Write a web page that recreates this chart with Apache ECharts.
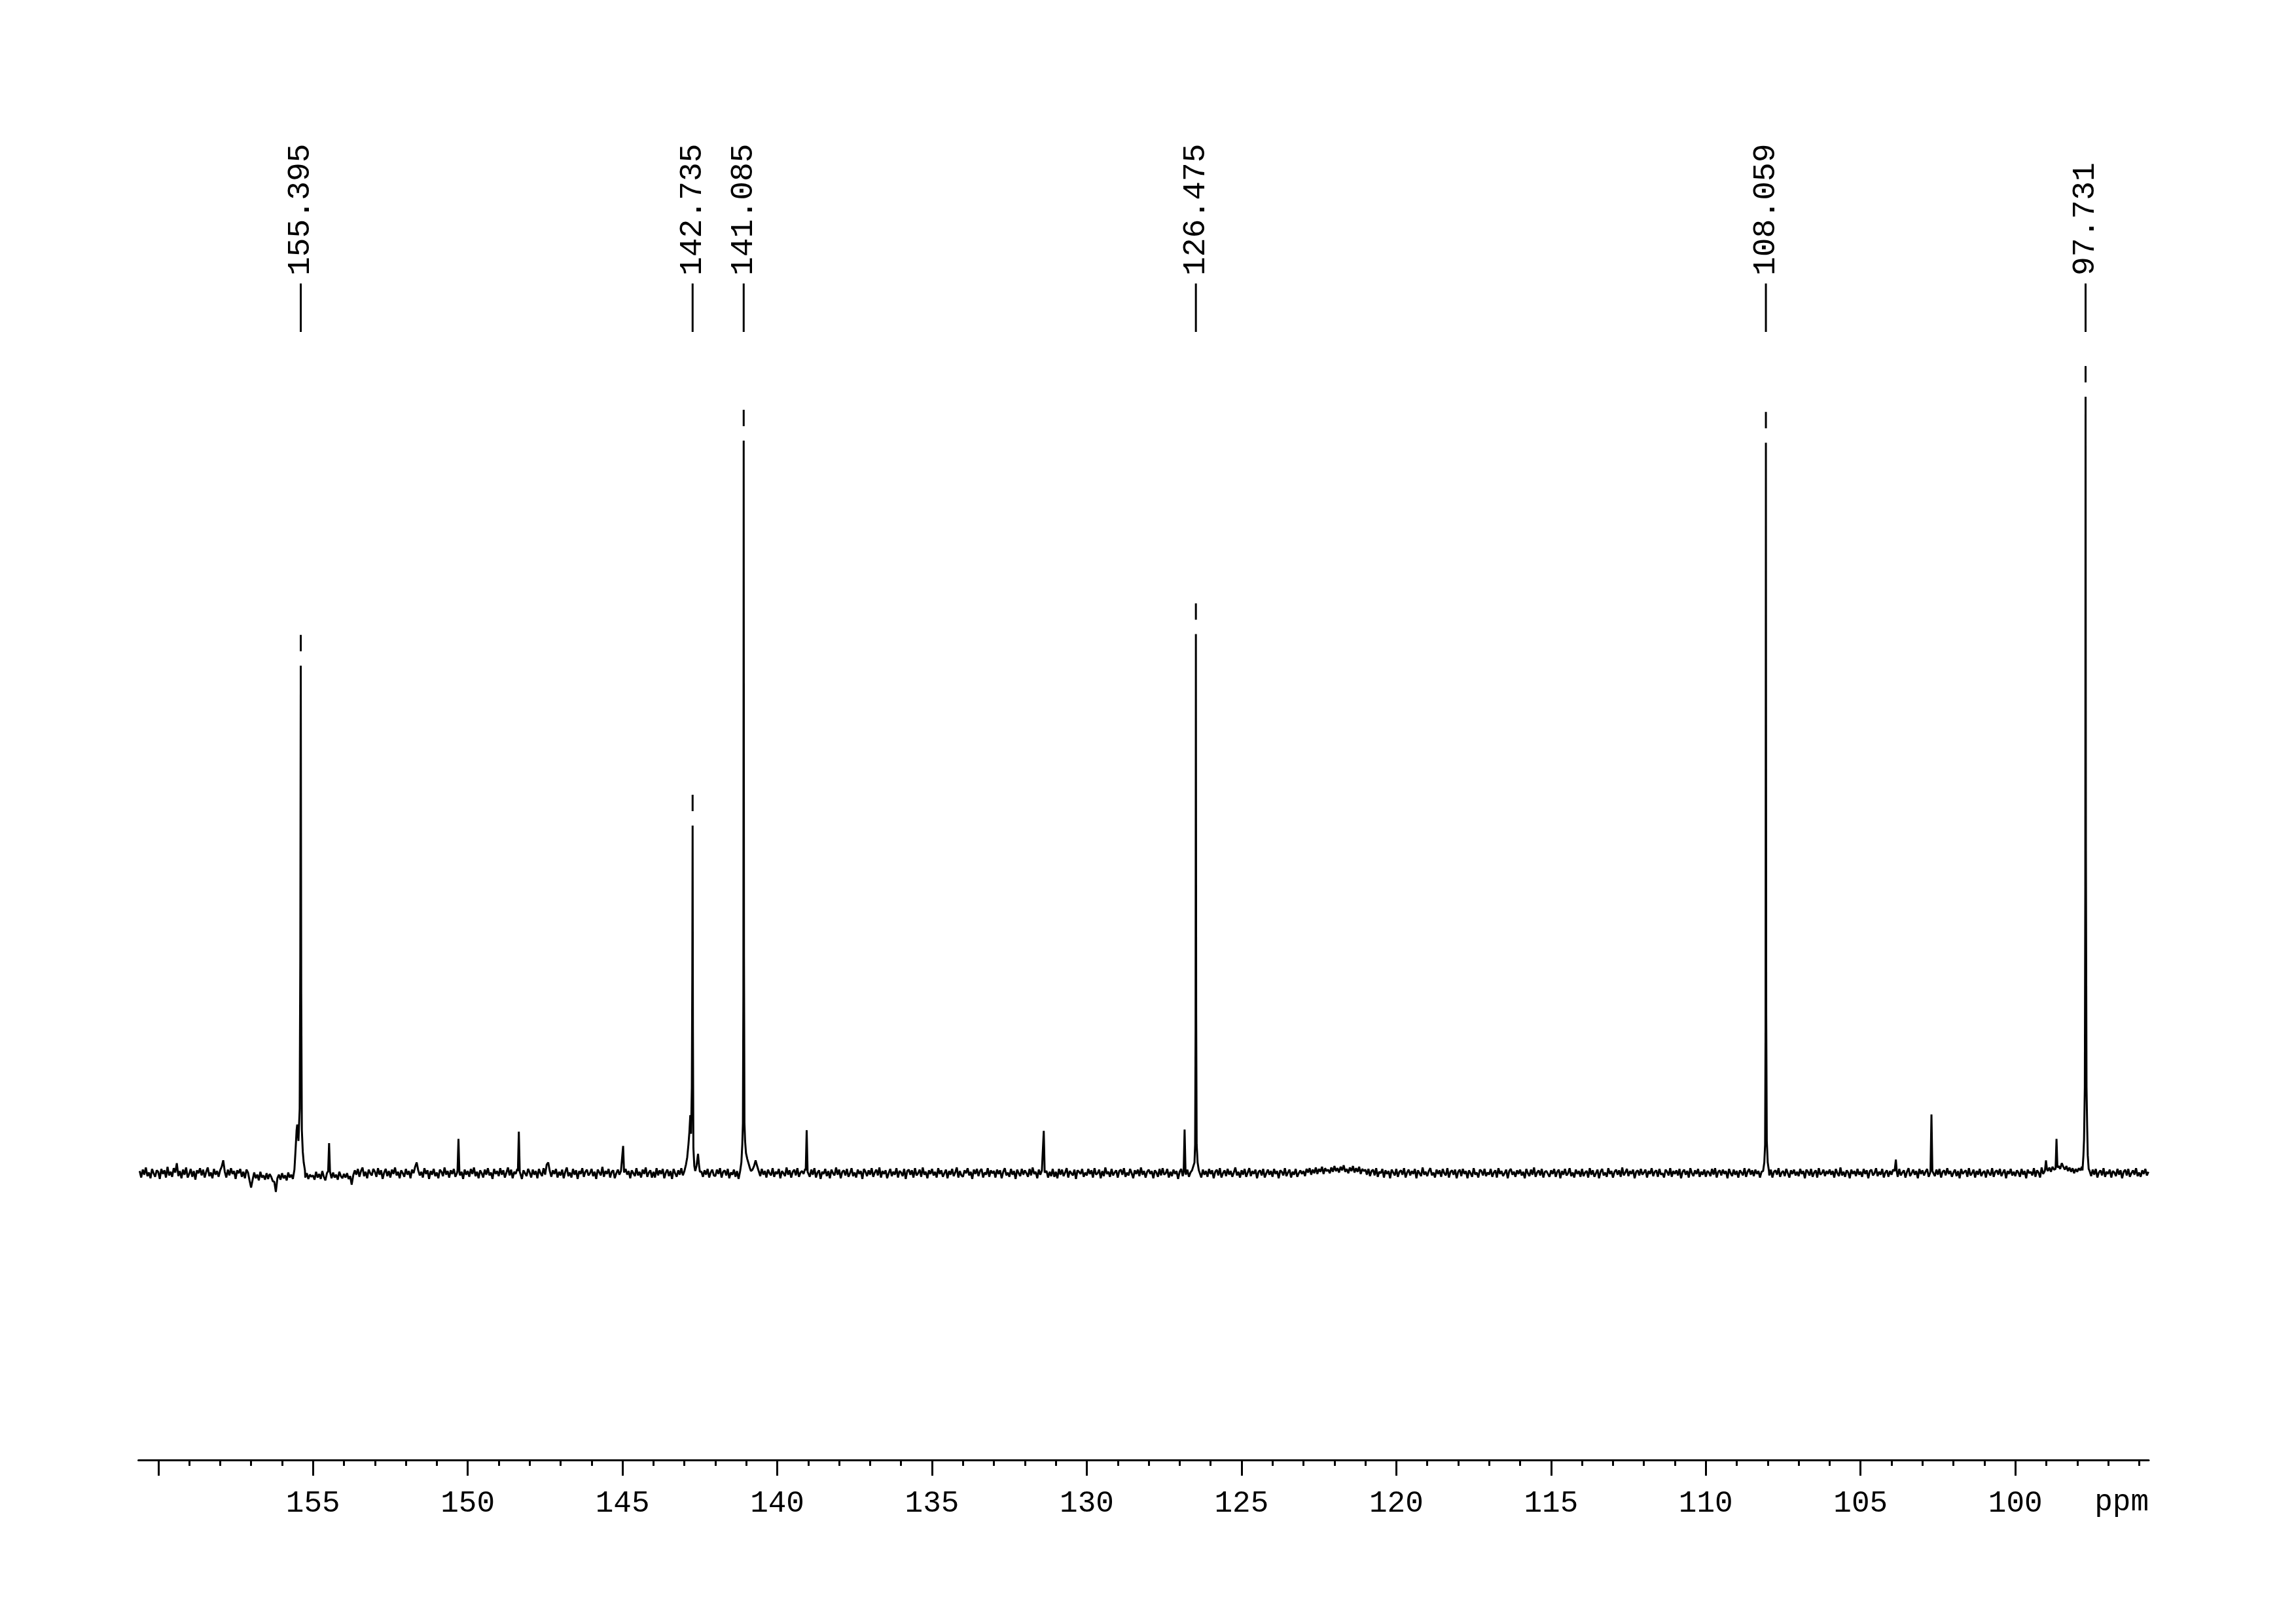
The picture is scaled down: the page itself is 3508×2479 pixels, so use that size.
<!DOCTYPE html>
<html>
<head>
<meta charset="utf-8">
<script src="https://cdn.jsdelivr.net/npm/echarts@6/dist/echarts.min.js"></script>
<style>html,body{margin:0;padding:0;background:#fff}#c{width:3508px;height:2479px}</style>
</head>
<body>
<div id="c"></div>
<script>
// ---- Data (13C NMR, ppm) ----
const axisMin = 95.69;
const axisMax = 160.64;
const majorTicks = [100, 105, 110, 115, 120, 125, 130, 135, 140, 145, 150, 155, 160];
const tickLabels = [100, 105, 110, 115, 120, 125, 130, 135, 140, 145, 150, 155];
const minorTicks = [96,97,98,99,100,101,102,103,104,105,106,107,108,109,110,111,112,113,114,115,116,117,118,119,120,121,122,123,124,125,126,127,128,129,130,131,132,133,134,135,136,137,138,139,140,141,142,143,144,145,146,147,148,149,150,151,152,153,154,155,156,157,158,159,160];

const peakLabels = ['155.395', '142.735', '141.085', '126.475', '108.059', '97.731'];
const peakPpm = [155.395, 142.735, 141.085, 126.475, 108.059, 97.731];
const peakHeights = [70.8, 48.5, 102.2, 75.2, 101.9, 108.3];

// baseline (noise) samples, every 0.05 ppm from 160.60 down to 95.70
const noiseStart = 160.6;
const noiseStep = 0.05;
const noise = [
 0.3,-0.6,0.5,-0.2,0.8,-0.4,0.1,-0.7,0.6,0.0,-0.5,0.4,
 0.2,-0.8,0.6,-0.1,0.4,-0.6,0.9,-0.3,0.2,-0.5, 0.7,0.1,1.4,-0.4,0.3,-0.7,0.5,-0.2,0.8,-0.6,
 -0.1,0.6,-0.5,0.3,-0.9,0.4,0.0,0.7,-0.3,0.5, -0.6,0.2,0.8,-0.4,0.1,-0.7,0.6,-0.2,0.3,-0.5,
 0.4,0.9,1.8,0.2,-0.6,0.5,-0.3,0.7,-0.1,0.3, -0.8,0.4,0.0,0.6,-0.5,0.2,-0.7,0.5,0.1,-1.0,
 -2.0,-0.9,0.1,-0.7,-0.2,-1.0,0.2,-0.6,-0.3,-0.9, 0.0,-0.8,-0.1,-0.5,-1.1,-1.2,-2.6,-0.7,-0.2,-0.9,
 0.0,-0.7,-0.3,-1.0,0.1,-0.6,-0.2,-0.8,0,0, 0,0,0,0,0,-0.6,0.0,-0.8,-0.2,-0.5,
 -0.3,-0.9,0.2,-0.6,-0.1,-0.8,0.3,-0.5,-1.0,0.0, 0,-0.4,-0.7,0.1,-0.6,-0.2,-0.9,0.2,-0.4,-0.7,
 -0.1,-0.6,0.0,-0.8,-0.4,-1.6,-0.3,0.4,-0.2,0.6, -0.5,0.3,0.8,-0.4,0.2,-0.7,0.5,0.0,-0.3,0.6,
 0.2,-0.5,0.7,-0.2,0.4,-0.8,0.1,0.6,-0.4,0.3, -0.6,0.5,-0.1,0.8,-0.3,0.2,-0.7,0.4,0.0,-0.5,
 0.6,-0.2,0.3,-0.7,0.5,0.0,0.9,1.5,0.4,-0.3, 0.2,-0.6,0.7,-0.1,0.4,-0.8,0.3,-0.2,0.6,-0.4,
 0.1,-0.7,0.5,0.2,-0.4,0.8,-0.2,0.3,-0.6,0.4, -0.1,0.6,-0.5,0.0,0.7,-0.3,0.2,-0.8,0.5,-0.2,
 0.3,-0.5,0.6,-0.1,0.8,-0.4,0.2,-0.7,0.4,0.0, -0.6,0.5,-0.2,0.7,-0.3,0.1,-0.8,0.6,-0.1,0.3,
 -0.4,0.7,-0.2,0.4,-0.6,0.1,0.8,-0.3,0.5,-0.7, 0.2,-0.1,0.6,-0.5,0.3,-0.8,0.4,0.0,-0.4,0.6,
 0.1,-0.6,0.5,-0.2,0.3,-0.7,0.6,0.0,-0.4,0.7, -0.2,1.2,1.5,0.3,-0.5,0.4,-0.1,0.6,-0.6,0.2,
 -0.3,0.5,-0.7,0.2,0.8,-0.4,0.1,-0.6,0.6,-0.2, 0.4,-0.8,0.3,-0.1,0.7,-0.5,0.2,0.5,-0.3,0.0,
 0.6,-0.4,0.2,-0.8,0.5,0.1,-0.3,0.9,-0.5,0.3, -0.1,0.6,-0.6,0.2,0.4,-0.7,0.0,0.5,-0.2,0.3,
 0,-0.5,0.6,-0.2,0.3,-0.7,0.4,0.0,-0.4,0.7, -0.3,0.2,-0.6,0.5,-0.1,0.8,-0.5,0.1,0.4,-0.6,
 0.2,-0.6,0.7,-0.3,0.4,-0.1,0.6,-0.7,0.1,0.5, -0.4,0.3,-0.8,0.6,0.0,-0.5,0.4,-0.2,0.7,-0.3,
 0.3,0,0,0,0,0,0,0,0,0, 0,0.2,-0.5,0.4,-0.2,0.6,-0.6,0.1,0.5,-0.3,
 -0.4,0.5,-0.1,0.7,-0.6,0.2,0.4,-0.3,0.6,-0.7, 0.1,-0.2,0.5,-0.5,0.3,-0.8,0,0,0,0,
 0,0,0,0,0.5,1.0,1.8,1.0,0.3,-0.4, 0.6,-0.2,0.3,-0.6,0.5,0.0,-0.3,0.7,-0.5,0.2,
 -0.1,0.6,-0.7,0.3,0.0,-0.4,0.8,-0.2,0.4,-0.6, 0.2,0.5,-0.3,0.7,-0.5,0.1,0.3,-0.1,0.6,0,
 0.3,-0.5,0.5,-0.2,0.7,-0.6,0.1,0.4,-0.8,0.2, -0.1,0.6,-0.4,0.3,-0.7,0.5,0.0,-0.3,0.8,-0.2,
 0.5,-0.7,0.2,0.4,-0.3,0.6,-0.5,0.0,0.7,-0.4, 0.1,-0.6,0.5,-0.1,0.3,-0.8,0.6,0.2,-0.4,0.4,
 -0.2,0.7,-0.5,0.1,0.5,-0.3,0.8,-0.6,0.3,-0.1, 0.4,-0.7,0.0,0.6,-0.4,0.2,-0.2,0.7,-0.6,0.3,
 0.1,-0.4,0.6,-0.8,0.3,0.5,-0.2,0.4,-0.6,0.7, -0.3,0.0,0.5,-0.5,0.8,-0.2,0.2,-0.7,0.4,-0.1,
 0.6,-0.3,0.2,-0.6,0.7,-0.1,0.4,-0.5,0.0,0.5, -0.7,0.3,-0.2,0.6,-0.4,0.1,0.8,-0.6,0.3,-0.3,
 -0.5,0.4,0.0,0.7,-0.3,0.2,-0.8,0.5,-0.1,0.6, -0.4,0.3,0.6,-0.6,0.1,-0.2,0.7,-0.5,0.4,0.0,
 0.3,-0.6,0.5,-0.1,0.4,-0.7,0.2,0.7,-0.3,0.1, -0.5,0.6,-0.2,0.3,-0.8,0.5,0.0,-0.4,0.6,-0.2,
 0.4,0.0,-0.5,0.6,-0.3,0.8,-0.1,0.2,-0.7,0.5, -0.2,0.4,0,0.1,0.3,-0.6,0.2,-0.4,0.6,-0.5,
 0.2,-0.7,0.6,-0.2,0.5,-0.4,0.1,0.7,-0.6,0.3, 0.0,-0.3,0.5,-0.8,0.4,0.2,-0.1,0.6,-0.5,0.1,
 -0.3,0.6,-0.1,0.4,-0.6,0.7,-0.2,0.0,0.5,-0.7, 0.3,-0.4,0.8,-0.1,0.2,-0.5,0.6,-0.3,0.1,0.4,
 -0.6,0.3,0.5,-0.2,0.7,-0.5,0.1,-0.3,0.6,0.0, -0.7,0.4,-0.1,0.5,-0.4,0.8,-0.2,0.3,-0.6,0.2,
 0.5,-0.1,0.3,-0.7,0.4,0.1,-0.5,0.6,-0.3,0.7, -0.2,0.0,0.6,-0.6,0.2,-0.4,0.5,-0.1,0.3,-0.8,
 0.2,0.6,-0.4,0,-0.2,0.5,-0.5,0.1,0.4,0, 0,0,0,0.3,-0.6,0.5,-0.2,0.3,-0.5,0.6,
 -0.1,0.4,-0.7,0.2,0.5,-0.3,0.7,-0.6,0.0,0.4, -0.4,0.6,-0.2,0.3,-0.5,0.1,0.8,-0.3,0.2,-0.6,
 0.4,-0.2,0.6,-0.5,0.1,0.7,-0.4,0.3,-0.1,0.5, -0.7,0.2,0.4,-0.3,0.6,-0.6,0.0,0.5,-0.2,0.3,
 -0.5,0.6,-0.1,0.3,-0.7,0.4,0.2,-0.3,0.7,-0.4, 0.1,0.5,-0.6,0.2,-0.2,0.6,-0.5,0.0,0.4,-0.1,
 0.3,-0.4,0.6,0.1,0.7,-0.2,0.5,0.0,0.8,-0.1, 0.6,0.2,0.9,-0.1,0.7,0.3,0.5,0.0,0.8,0.2,
 1.0,0.3,0.7,0.1,0.9,0.4,1.1,0.2,0.6,0.0, 0.8,0.3,1.0,0.1,0.7,0.2,0.9,-0.1,0.6,0.3,
 0.5,-0.2,0.6,-0.4,0.3,0.5,-0.3,0.7,-0.5,0.2, 0.0,0.6,-0.6,0.4,-0.1,0.3,-0.7,0.5,0.1,-0.3,
 0.6,-0.5,0.2,0.4,-0.2,0.7,-0.6,0.1,0.5,-0.3, 0.3,-0.1,0.6,-0.7,0.4,0.0,-0.4,0.8,-0.2,0.2,
 -0.4,0.3,0.7,-0.3,0.1,-0.6,0.5,-0.1,0.4,-0.5, 0.6,0.0,-0.3,0.7,-0.6,0.2,0.4,-0.2,0.5,-0.7,
 0.2,0.5,-0.4,0.6,-0.1,0.3,-0.7,0.4,0.0,-0.5, 0.7,-0.2,0.1,-0.6,0.5,0.3,-0.3,0.6,-0.4,0.1,
 -0.2,0.6,-0.5,0.1,0.4,-0.6,0.7,-0.1,0.3,-0.4, 0.0,0.5,-0.7,0.3,0.6,-0.2,0.2,-0.5,0.4,-0.1,
 0.5,-0.3,0.2,-0.7,0.6,0.0,-0.4,0.5,-0.2,0.8, -0.5,0.1,0.4,-0.3,0.6,-0.6,0.2,0.3,-0.1,-0.5,
 0.4,-0.1,0.6,-0.5,0.2,0.5,-0.7,0.3,-0.2,0.6, -0.3,0.0,0.7,-0.4,0.1,-0.6,0.5,-0.1,0.3,-0.5,
 0.6,-0.4,0.1,0.3,-0.6,0.7,-0.2,0.4,-0.5,0.0, 0.5,-0.7,0.2,0.6,-0.3,0.1,-0.5,0.7,-0.1,0.3,
 -0.6,0.2,0.5,-0.2,0.4,-0.5,0.8,-0.3,0.1,0.6, -0.4,0.3,-0.1,0.5,-0.7,0.2,0.4,-0.3,0.6,-0.2,
 0.1,0.5,-0.6,0.3,-0.1,0.7,-0.4,0.2,0.4,-0.5, 0.6,-0.2,0.0,-0.6,0.5,0.2,-0.3,0.7,-0.5,0.3,
 -0.1,0.4,-0.3,0.6,-0.7,0.2,0.5,-0.2,0.3,-0.6, 0.7,0.0,-0.4,0.4,-0.1,0.6,-0.5,0.2,-0.2,0.5,
 -0.5,0.3,0.1,-0.4,0.6,-0.2,0.7,-0.6,0.2,0.4, -0.3,0.5,-0.1,0.3,-0.7,0.6,0.0,-0.4,0.5,-0.2,
 0.3,-0.6,0.4,0.1,-0.3,0.7,-0.5,0.2,0.6,-0.2, 0.4,-0.4,0.5,-0.1,0.3,-0.6,0.2,0,0,0,
 0,-0.3,0.5,-0.6,0.2,0.4,-0.2,0.7,-0.5,0.1, 0.3,-0.4,0.6,0.0,-0.6,0.4,-0.1,0.5,-0.3,0.2,
 -0.4,0.6,-0.1,0.3,-0.7,0.5,0.2,-0.3,0.6,-0.5, 0.1,0.4,-0.6,0.7,-0.2,0.0,0.5,-0.4,0.3,-0.1,
 0.5,-0.2,0.3,-0.6,0.6,0.0,-0.4,0.8,-0.3,0.2, -0.5,0.4,0.1,-0.7,0.5,-0.1,0.3,-0.4,0.6,-0.2,
 0.2,-0.5,0.6,-0.1,0.4,-0.7,0.3,0.5,-0.3,0.0, 0.7,-0.4,0.2,-0.2,0.6,-0.6,0.1,0.4,-0.5,0.3,
 -0.2,0.5,0.3,0,-0.5,0.6,-0.3,0.1,0.4,-0.6, 0.2,0.7,-0.4,0.0,0.5,-0.2,0.3,-0.7,0.6,-0.1,
 0.4,-0.3,0.2,0.6,-0.5,0.1,0,0.3,-0.4,0.5, -0.2,0.6,-0.6,0.2,0.4,-0.3,0.7,-0.1,0.3,-0.5,
 0.1,0.5,-0.4,0.3,-0.7,0.6,-0.1,0.2,0.4,-0.5, 0.7,-0.3,0.0,0.5,-0.6,0.3,-0.2,0.6,-0.4,0.1,
 0.3,-0.6,0.5,0.0,-0.3,0.7,-0.5,0.2,0.4,-0.2, 0.6,-0.4,0.1,0.5,-0.7,0.3,-0.1,0.6,-0.3,0.2,
 -0.4,0.4,0.1,-0.5,0.6,-0.2,0.3,-0.7,0.5,0.0, 0.2,-0.3,0.7,-0.5,0.4,0.1,-0.6,0.8,-0.1,0.3,
 0,0.3,0.8,0.2,0.9,0.5,0,0,1.0,0.6, 1.4,0.9,0.5,1.0,0.3,0.8,0.2,0.7,0.0,0.6,
 0.2,0.7,0.4,0.9,0,0,0,0,0.3,-0.4, 0.5,-0.2,0.6,-0.6,0.1,0.4,-0.3,0.7,-0.5,0.2,
 -0.1,0.5,-0.6,0.3,0.1,-0.4,0.6,-0.2,0.4,-0.7, 0.2,0.5,-0.3,0.6,-0.5,0.0,0.4,-0.2,0.7,-0.4,
 0.1,-0.5,0.4,-0.1,0.6,-0.3,0.2
];

// peak line shapes, [ppm, intensity]
const peak155 = [[155.60,0.5],[155.56,3.5],[155.53,6.0],[155.51,6.8],[155.47,4.5],[155.43,9.0],[155.41,30.0],[155.395,70.8],[155.38,25.0],[155.36,6.0],[155.33,3.0],[155.30,1.5],[155.26,0.4]];
const peak142 = [[142.99,0.3],[142.95,1.2],[142.91,2.2],[142.87,4.0],[142.84,5.7],[142.81,8.1],[142.785,5.5],[142.76,12.0],[142.745,28.0],[142.735,48.5],[142.725,20.0],[142.71,3.5],[142.68,1.0],[142.65,0.3],[142.61,1.0],[142.58,2.0],[142.56,2.7],[142.53,1.2],[142.50,0.2]];
const peak141 = [[141.20,0.3],[141.16,1.5],[141.13,4.0],[141.11,7.0],[141.095,25.0],[141.085,102.2],[141.075,30.0],[141.06,7.0],[141.04,4.5],[141.01,2.8],[140.97,2.0],[140.93,1.4],[140.89,0.8],[140.85,0.3]];
const peak126 = [[126.56,0.3],[126.52,1.5],[126.50,4.0],[126.485,20.0],[126.475,75.2],[126.465,22.0],[126.45,4.0],[126.42,1.5],[126.38,0.4]];
const peak108 = [[108.15,0.3],[108.11,1.5],[108.085,4.0],[108.07,20.0],[108.059,101.9],[108.048,22.0],[108.03,4.5],[108.00,1.5],[107.96,0.3]];
const peak97 = [[97.83,0.4],[97.80,2.5],[97.78,4.7],[97.755,12.0],[97.74,40.0],[97.731,108.3],[97.72,45.0],[97.70,12.0],[97.68,6.6],[97.66,2.5],[97.63,0.6]];
const smallPeaks = [
  [[154.51,0.3],[154.48,4.2],[154.45,0.2]],
  [[150.33,0.4],[150.30,4.8],[150.27,0.1]],
  [[148.38,0.3],[148.35,5.8],[148.32,0.2]],
  [[145.01,0.2],[144.98,3.8],[144.95,0.1]],
  [[139.08,0.4],[139.05,6.0],[139.02,0.2]],
  [[131.42,0.3],[131.39,5.9],[131.36,0.1]],
  [[126.87,0.2],[126.84,6.1],[126.81,0.3]],
  [[103.89,0.3],[103.86,1.9],[103.83,0.2]],
  [[102.74,0.4],[102.71,8.2],[102.68,0.3]],
  [[99.04,0.5],[99.01,1.8],[98.98,0.6]],
  [[98.70,0.6],[98.67,4.8],[98.64,0.8]]
];

// ---- build the spectrum line ----
const peakGroups = [peak155, peak142, peak141, peak126, peak108, peak97].concat(smallPeaks);
const windows = peakGroups.map(g => {
  const ps = g.map(p => p[0]);
  return [Math.min.apply(null, ps) - 0.005, Math.max.apply(null, ps) + 0.005];
});
const spectrum = [];
noise.forEach((v, i) => {
  const ppm = Math.round((noiseStart - i * noiseStep) * 1000) / 1000;
  if (!windows.some(w => ppm >= w[0] && ppm <= w[1])) spectrum.push([ppm, v]);
});
peakGroups.forEach(g => g.forEach(p => spectrum.push([p[0], p[1]])));
spectrum.sort((a, b) => b[0] - a[0]);

const labelData = peakPpm.map((p, i) => [p, peakHeights[i], i]);

const FONT = '"Liberation Mono", "DejaVu Sans Mono", monospace';
const chart = echarts.init(document.getElementById('c'), null, {renderer: 'canvas'});
chart.setOption({
  backgroundColor: '#ffffff',
  animation: false,
  grid: {left: 211.5, right: 225, top: 478, bottom: 249, containLabel: false},
  xAxis: [{
    type: 'value', inverse: true, min: axisMin, max: axisMax, position: 'bottom',
    axisLine: {show: true, onZero: false, lineStyle: {color: '#000', width: 3}},
    axisTick: {show: true, customValues: majorTicks, length: 24, lineStyle: {color: '#000', width: 3}},
    axisLabel: {show: true, customValues: tickLabels, margin: 44, color: '#000', fontFamily: FONT, fontSize: 46},
    splitLine: {show: false}
  }, {
    type: 'value', inverse: true, min: axisMin, max: axisMax, position: 'bottom',
    axisLine: {show: false, onZero: false},
    axisTick: {show: true, customValues: minorTicks, length: 9, lineStyle: {color: '#000', width: 3}},
    axisLabel: {show: false},
    splitLine: {show: false}
  }],
  yAxis: {type: 'value', min: -40, max: 120, show: false},
  graphic: [{
    type: 'text', right: 225, top: 2272,
    style: {text: 'ppm', font: '46px ' + FONT, fill: '#000'}
  }],
  series: [{
    type: 'line', xAxisIndex: 0, data: spectrum, showSymbol: false, symbol: 'none',
    lineStyle: {color: '#000', width: 3}, silent: true
  }, {
    type: 'custom', xAxisIndex: 0, data: labelData, clip: false, silent: true,
    renderItem: function (params, api) {
      const x = api.coord([api.value(0), 0])[0];
      const yTop = api.coord([api.value(0), api.value(1)])[1];
      return {
        type: 'group',
        children: [
          {type: 'line', shape: {x1: x, y1: yTop - 47, x2: x, y2: yTop - 22}, style: {stroke: '#000', lineWidth: 3}},
          {type: 'line', shape: {x1: x, y1: 433, x2: x, y2: 507}, style: {stroke: '#000', lineWidth: 3}},
          {type: 'text', x: x, y: 421, rotation: Math.PI / 2,
           style: {text: peakLabels[api.value(2)], x: 0, y: 0, align: 'left', verticalAlign: 'middle', font: '48px ' + FONT, fill: '#000'}}
        ]
      };
    }
  }]
});
</script>
</body>
</html>
